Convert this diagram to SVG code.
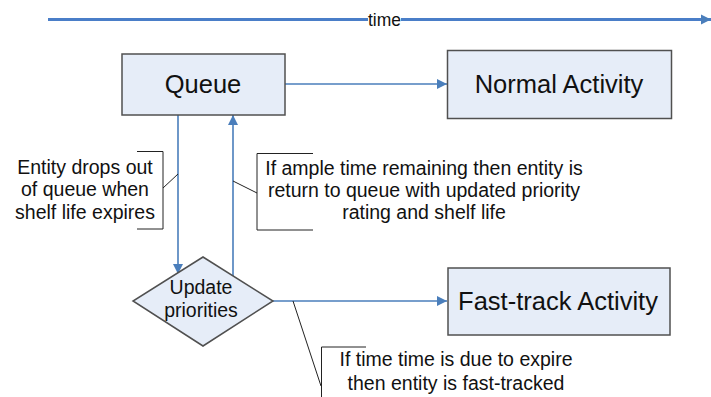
<svg xmlns="http://www.w3.org/2000/svg" width="711" height="397" viewBox="0 0 711 397">
  <defs>
    <marker id="arr" viewBox="0 0 10 10" refX="10" refY="5" markerWidth="10" markerHeight="10" markerUnits="userSpaceOnUse" orient="auto">
      <path d="M0,0 L10,5 L0,10 z" fill="#4A7EBB"/>
    </marker>
    <marker id="arrBig" viewBox="0 0 10 10" refX="10" refY="5" markerWidth="10" markerHeight="12" markerUnits="userSpaceOnUse" orient="auto">
      <path d="M0,0 L10,5 L0,10 z" fill="#4A7EBB"/>
    </marker>
  </defs>
  <style>
    .box { fill: #E6EDF8; stroke: #505050; stroke-width: 1.5; }
    .label { font-family: "Liberation Sans", Arial, sans-serif; fill: #111; text-anchor: middle; }
    .big { font-size: 25.5px; }
    .note { font-size: 19.5px; }
    .flow { fill: none; stroke: #4A7EBB; stroke-width: 1.6; }
    .timeline { fill: none; stroke: #4A7EC8; stroke-width: 3; }
    .bracket { fill: none; stroke: #222; stroke-width: 1; }
  </style>
  <rect width="711" height="397" fill="#ffffff"/>

  <!-- time axis -->
  <g id="time-axis">
    <line class="timeline" x1="48" y1="19.5" x2="368" y2="19.5"/>
    <line class="timeline" x1="401" y1="19.5" x2="711" y2="19.5" marker-end="url(#arrBig)"/>
    <text class="label" x="384.5" y="25.5" style="font-size:17.5px">time</text>
  </g>

  <!-- connectors -->
  <g id="connectors">
    <line class="flow" x1="285" y1="84" x2="447" y2="84" marker-end="url(#arr)"/>
    <line class="flow" x1="178" y1="115" x2="178" y2="274" marker-end="url(#arr)"/>
    <line class="flow" x1="233" y1="276" x2="233" y2="115" marker-end="url(#arr)"/>
    <line class="flow" x1="273" y1="301" x2="447" y2="301" marker-end="url(#arr)"/>
  </g>

  <g id="queue">
    <rect class="box" x="122" y="54" width="163" height="61"/>
    <text class="label big" x="203" y="92.5">Queue</text>
  </g>

  <g id="normal-activity">
    <rect class="box" x="447.5" y="50.5" width="224" height="68"/>
    <text class="label big" x="559" y="92.5">Normal Activity</text>
  </g>

  <g id="update-priorities">
    <polygon class="box" points="203,257 273,301 203,346 133,301"/>
    <text class="label note" x="201" y="293.5">Update</text>
    <text class="label note" x="201" y="317">priorities</text>
  </g>

  <g id="fast-track-activity">
    <rect class="box" x="448" y="268" width="222" height="67"/>
    <text class="label big" x="558" y="310">Fast-track Activity</text>
  </g>

  <!-- callouts -->
  <g id="note-drop-out">
    <path class="bracket" d="M137,151.5 H163 V229 H137"/>
    <line class="bracket" x1="163" y1="188" x2="178" y2="174"/>
    <text class="label note" x="85" y="173.5">Entity drops out</text>
    <text class="label note" x="85" y="196">of queue when</text>
    <text class="label note" x="85" y="218.5">shelf life expires</text>
  </g>

  <g id="note-return">
    <path class="bracket" d="M313,153.5 H257 V230 H313"/>
    <line class="bracket" x1="233" y1="181" x2="257" y2="193"/>
    <text class="label note" x="424" y="175">If ample time remaining then entity is</text>
    <text class="label note" x="424" y="197">return to queue with updated priority</text>
    <text class="label note" x="424" y="219">rating and shelf life</text>
  </g>

  <g id="note-fast-track">
    <path class="bracket" d="M366,347 H321.5 V397"/>
    <line class="bracket" x1="293" y1="301" x2="321" y2="386"/>
    <text class="label note" x="456" y="366">If time time is due to expire</text>
    <text class="label note" x="456" y="389.5">then entity is fast-tracked</text>
  </g>
</svg>
